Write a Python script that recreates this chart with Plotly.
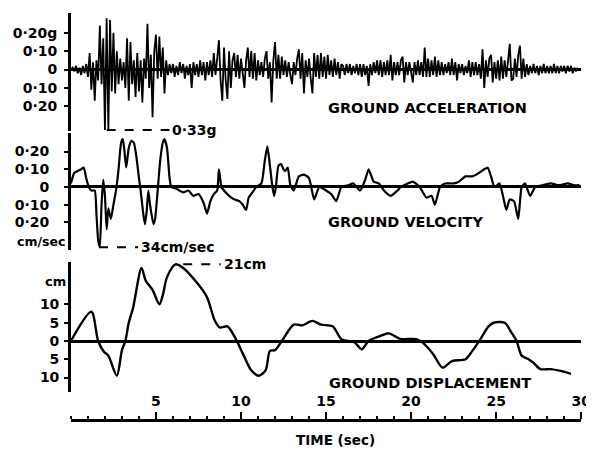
import plotly.graph_objects as go

# ---------------- data ----------------
ACC_DT = 0.1  # s, sampling step of the acceleration record as digitised
acc_g = [
    0.00, 0.01, -0.01, 0.02, -0.02, 0.01, -0.03, 0.02, -0.02, 0.03,
    -0.04, 0.09, -0.11, 0.04, -0.17, 0.05, -0.06, 0.24, -0.08, 0.17,
    -0.33, 0.28, -0.33, 0.27, -0.12, 0.20, -0.13, 0.10, -0.08, 0.06,
    -0.06, 0.04, -0.10, 0.17, -0.17, 0.15, -0.08, 0.05, -0.15, 0.09,
    -0.12, 0.05, -0.18, 0.06, -0.05, 0.25, -0.10, 0.08, -0.26, 0.10,
    0.19, -0.05, 0.18, -0.04, 0.12, -0.13, 0.05, -0.03, 0.03, -0.02,
    0.03, -0.04, 0.02, -0.03, 0.04, -0.02, 0.03, -0.05, 0.02, -0.03,
    0.03, -0.10, 0.04, -0.03, 0.03, -0.04, 0.05, -0.03, 0.04, -0.06,
    0.04, -0.03, 0.05, -0.04, 0.09, -0.03, 0.06, 0.16, -0.06, -0.17,
    0.12, -0.06, -0.16, 0.10, -0.10, 0.05, 0.09, -0.04, 0.08, -0.05,
    0.06, -0.04, -0.10, 0.05, 0.12, -0.04, 0.10, -0.05, 0.09, -0.06,
    0.05, -0.03, 0.04, -0.04, 0.06, 0.10, -0.05, 0.04, -0.18, 0.05,
    0.15, -0.05, 0.08, -0.05, 0.07, -0.03, 0.05, -0.04, 0.04, -0.03,
    -0.08, 0.04, -0.03, 0.06, 0.11, -0.05, 0.09, -0.13, 0.05, -0.04,
    0.06, -0.05, -0.13, 0.09, -0.04, 0.08, -0.05, 0.09, -0.04, 0.07,
    -0.05, 0.08, -0.03, 0.05, -0.04, 0.06, -0.03, 0.04, -0.05, 0.03,
    0.02, -0.03, 0.03, -0.02, 0.03, -0.03, 0.02, -0.02, 0.03, -0.03,
    0.03, -0.04, 0.03, -0.03, 0.02, -0.09, 0.03, -0.03, 0.04, -0.02,
    0.05, -0.03, 0.05, -0.04, 0.04, -0.03, 0.05, -0.03, 0.08, -0.06,
    0.04, -0.03, 0.04, -0.03, 0.05, 0.07, -0.07, 0.04, -0.03, 0.04,
    -0.03, -0.07, 0.04, -0.03, 0.05, -0.03, 0.04, -0.04, 0.12, -0.04,
    0.06, -0.04, 0.05, -0.03, 0.07, -0.04, 0.05, -0.03, 0.04, -0.03,
    0.03, -0.02, 0.04, -0.03, 0.06, -0.03, 0.04, -0.06, 0.03, -0.02,
    0.03, -0.03, 0.02, -0.02, 0.05, -0.04, 0.04, -0.03, 0.04, -0.03,
    0.03, -0.05, 0.11, -0.10, 0.05, -0.04, 0.06, 0.08, -0.07, 0.04,
    -0.05, 0.05, -0.06, 0.07, -0.05, 0.05, -0.04, 0.06, 0.14, -0.06,
    -0.05, 0.06, -0.04, 0.08, 0.13, -0.05, 0.06, -0.04, 0.03, -0.03,
    0.02, -0.02, 0.03, -0.02, 0.02, -0.03, 0.02, -0.02, 0.03, -0.02,
    0.02, -0.02, 0.02, -0.02, 0.03, -0.02, 0.02, -0.02, 0.02, -0.01,
    0.02, -0.02, 0.02, -0.01, 0.02, -0.02, 0.01, -0.01, 0.01,
]
acc_time = [round(i * ACC_DT, 1) for i in range(len(acc_g))]

vel_t = [0.0, 0.2, 0.4, 0.6, 0.75, 0.9, 1.05, 1.2, 1.4, 1.5, 1.6, 1.7, 1.8, 1.9,
         2.0, 2.1, 2.2, 2.35, 2.5, 2.65, 2.8, 2.95, 3.05, 3.15, 3.25, 3.4, 3.55,
         3.7, 3.85, 4.0, 4.1, 4.25, 4.35, 4.45, 4.55, 4.65, 4.85, 4.95, 5.1,
         5.25, 5.4, 5.5, 5.65, 5.8, 5.9, 6.2, 6.6, 6.9, 7.2, 7.5, 7.8, 8.0, 8.2,
         8.4, 8.6, 8.7, 8.85, 9.0, 9.3, 9.6, 9.9, 10.1, 10.3, 10.45, 10.6, 10.9,
         11.2, 11.4, 11.55, 11.7, 11.85, 11.95, 12.05, 12.2, 12.35, 12.5, 12.6,
         12.75, 12.9, 13.1, 13.4, 13.7, 14.0, 14.3, 14.6, 15.0, 15.3, 15.6,
         15.9, 16.3, 16.6, 17.0, 17.3, 17.5, 17.8, 18.1, 18.4, 18.8, 19.2,
         19.4, 19.8, 20.1, 20.5, 20.9, 21.2, 21.4, 21.7, 22.0, 22.5, 22.8,
         23.2, 23.6, 24.0, 24.3, 24.5, 24.7, 24.9, 25.2, 25.4, 25.6, 25.8,
         26.05, 26.3, 26.5, 26.7, 27.0, 27.3, 27.7, 28.2, 28.7, 29.2, 29.6, 29.9]
vel_ms = [0.02, 0.08, 0.09, 0.10, 0.11, 0.05, 0.0, -0.02, -0.02, -0.15, -0.30,
          -0.34, -0.10, 0.04, -0.05, -0.24, -0.12, -0.18, -0.10, -0.02, 0.10,
          0.25, 0.27, 0.20, 0.11, 0.22, 0.26, 0.25, 0.17, 0.05, -0.02, -0.15,
          -0.21, -0.14, -0.02, -0.10, -0.21, -0.18, -0.02, 0.15, 0.25, 0.27,
          0.22, 0.05, 0.0, -0.01, -0.03, -0.02, -0.05, -0.04, -0.09, -0.15,
          -0.08, -0.04, -0.02, 0.10, 0.0, -0.02, -0.05, -0.07, -0.08, -0.10,
          -0.13, -0.06, -0.04, 0.0, 0.02, 0.15, 0.23, 0.12, 0.0, -0.05, 0.0,
          0.12, 0.13, 0.10, 0.09, 0.11, 0.01, -0.02, 0.06, 0.07, 0.05, -0.07,
          0.0, -0.02, -0.04, -0.08, 0.0, 0.01, 0.02, -0.02, 0.04, 0.10, 0.03,
          0.02, -0.02, -0.05, -0.02, 0.0, 0.02, 0.03, 0.0, -0.06, -0.05, -0.10,
          0.0, 0.02, 0.02, 0.03, 0.06, 0.06, 0.08, 0.10, 0.11, 0.06, 0.0, 0.02,
          -0.05, -0.13, -0.07, -0.08, -0.18, 0.0, 0.02, -0.05, 0.0, 0.01, 0.02,
          0.01, 0.02, 0.01, 0.01]

disp_t = [0.0, 1.2, 1.6, 1.95, 2.2, 2.7, 3.0, 3.2, 3.4, 3.65, 4.15, 4.4, 4.8,
          5.2, 5.4, 5.65, 6.15, 6.6, 7.4, 8.0, 8.45, 8.75, 9.2, 9.7, 10.2, 10.6,
          11.05, 11.45, 11.7, 12.0, 12.4, 13.1, 13.6, 14.2, 14.7, 15.4, 15.9,
          16.65, 17.1, 17.5, 18.2, 18.7, 19.35, 20.3, 20.7, 21.3, 21.85, 22.4,
          23.2, 23.6, 24.05, 24.55, 24.85, 25.5, 25.9, 26.2, 26.5, 26.9, 27.2,
          27.6, 28.2, 28.8, 29.4]
disp_cm = [0.0, 8.0, 0.0, -3.0, -4.0, -9.5, -2.5, 0.0, 5.0, 9.0, 20.0, 16.5,
           14.0, 10.0, 12.5, 17.5, 21.0, 20.0, 16.0, 12.0, 5.7, 3.7, 4.0, 0.5,
           -4.4, -8.0, -9.5, -8.0, -2.7, -2.5, 0.0, 4.5, 4.3, 5.5, 4.5, 4.0,
           0.5, -0.3, -2.3, 0.0, 1.4, 2.1, 0.6, 0.5, -0.5, -3.6, -7.3, -5.5,
           -5.0, -2.7, 0.3, 4.0, 5.0, 5.0, 2.3, 0.0, -4.0, -5.0, -6.0, -7.7,
           -7.7, -8.2, -9.0]

time_ticks = [5, 10, 15, 20, 25, 30]
acc_ticks = [0.2, 0.1, 0, -0.1, -0.2]
acc_ticktext = ["0·20g", "0·10", "0", "0·10", "0·20"]
vel_ticks = [0.2, 0.1, 0, -0.1, -0.2]
vel_ticktext = ["0·20", "0·10", "0", "0·10", "0·20"]
disp_ticks = [10, 5, 0, -5, -10]
disp_ticktext = ["10", "5", "0", "5", "10"]

peak_acc = -0.33
peak_vel = -0.34
peak_disp = 21

# ---------------- figure ----------------
W, H = 594, 450
OFF = 8  # page margin of the html body: the figure is drawn 8px right/down
FONT = "DejaVu Sans"
INK = "black"


def px_(x):
    return (x - OFF) / W


def py(y):
    return 1 - (y - OFF) / H


fig = go.Figure()
fig.add_trace(go.Scatter(x=acc_time, y=acc_g, mode="lines", xaxis="x", yaxis="y",
                         line=dict(color=INK, width=1.8), hoverinfo="skip"))
fig.add_trace(go.Scatter(x=vel_t, y=vel_ms, mode="lines", xaxis="x", yaxis="y2",
                         line=dict(color=INK, width=2.2, shape="spline", smoothing=0.5),
                         hoverinfo="skip"))
fig.add_trace(go.Scatter(x=disp_t, y=disp_cm, mode="lines", xaxis="x", yaxis="y3",
                         line=dict(color=INK, width=2.4, shape="spline", smoothing=0.8),
                         hoverinfo="skip"))


def bold(lst):
    return ["<b>%s</b>" % s for s in lst]


def yax(standoff):
    return dict(
        anchor="x", showgrid=False, showline=True, linecolor=INK, linewidth=2.5,
        ticks="outside", ticklen=4, tickwidth=2, tickcolor=INK,
        ticklabelstandoff=standoff,
        zeroline=True, zerolinecolor=INK, zerolinewidth=2.6,
        tickfont=dict(family=FONT, size=14, color=INK), fixedrange=True,
    )


fig.update_layout(
    width=W, height=H, margin=dict(l=0, r=0, t=0, b=0),
    paper_bgcolor="white", plot_bgcolor="white", showlegend=False,
    xaxis=dict(
        domain=[px_(72), px_(591)], range=[0, 30], anchor="free", position=py(420),
        side="top", showgrid=False, zeroline=False, showline=True,
        linecolor=INK, linewidth=3, ticks="outside", ticklen=7, tickwidth=2,
        tickcolor=INK, tickvals=time_ticks, ticktext=bold([str(v) for v in time_ticks]),
        tickfont=dict(family=FONT, size=14, color=INK), ticklabeloverflow="allow",
        minor=dict(dtick=1, ticks="outside", ticklen=3, tickwidth=2, tickcolor=INK),
    ),
    yaxis=dict(domain=[py(131), py(13)], range=[-0.3351, 0.3081],
               tickvals=acc_ticks, ticktext=bold(acc_ticktext), **yax(4)),
    yaxis2=dict(domain=[py(250), py(133)], range=[-0.356, 0.305],
                tickvals=vel_ticks, ticktext=bold(vel_ticktext), **yax(12)),
    yaxis3=dict(domain=[py(392), py(262)], range=[-13.97, 21.64],
                tickvals=disp_ticks, ticktext=bold(disp_ticktext), **yax(2)),
)

# peak markers (dashed leaders) and their labels
dash = dict(color=INK, width=2, dash="dash")
fig.add_shape(type="line", xref="x", yref="y", x0=2.1, x1=5.8, y0=peak_acc, y1=peak_acc, line=dash)
fig.add_shape(type="line", xref="x", yref="y2", x0=1.65, x1=3.95, y0=peak_vel, y1=peak_vel, line=dash)
fig.add_shape(type="line", xref="x", yref="y3", x0=6.6, x1=8.8, y0=peak_disp, y1=peak_disp, line=dash)

lab = dict(family=FONT, size=14, color=INK)
fig.add_annotation(x=5.85, y=peak_acc, xref="x", yref="y", text="<b>0·33g</b>",
                   showarrow=False, xanchor="left", yanchor="middle", font=lab)
fig.add_annotation(x=4.0, y=peak_vel, xref="x", yref="y2", text="<b>34cm/sec</b>",
                   showarrow=False, xanchor="left", yanchor="middle", font=lab)
fig.add_annotation(x=8.9, y=peak_disp, xref="x", yref="y3", text="<b>21cm</b>",
                   showarrow=False, xanchor="left", yanchor="middle", font=lab)

big = dict(family=FONT, size=14.5, color=INK)
fig.add_annotation(x=px_(435), y=py(108), xref="paper", yref="paper", xanchor="center",
                   yanchor="middle", text="<b>GROUND ACCELERATION</b>", showarrow=False, font=big)
fig.add_annotation(x=px_(412), y=py(222), xref="paper", yref="paper", xanchor="center",
                   yanchor="middle", text="<b>GROUND VELOCITY</b>", showarrow=False, font=big)
fig.add_annotation(x=px_(437), y=py(383), xref="paper", yref="paper", xanchor="center",
                   yanchor="middle", text="<b>GROUND DISPLACEMENT</b>", showarrow=False, font=big)
fig.add_annotation(x=px_(341), y=py(440), xref="paper", yref="paper", xanchor="center",
                   yanchor="middle", text="<b>TIME (sec)</b>", showarrow=False,
                   font=dict(family=FONT, size=13.5, color=INK))
fig.add_annotation(x=px_(68), y=py(241), xref="paper", yref="paper",
                   text="<b>cm/sec</b>", showarrow=False, xanchor="right", yanchor="middle",
                   font=dict(family=FONT, size=12.5, color=INK))
fig.add_annotation(x=px_(69), y=py(281), xref="paper", yref="paper",
                   text="<b>cm</b>", showarrow=False, xanchor="right", yanchor="middle",
                   font=dict(family=FONT, size=13, color=INK))

fig.write_html("out.html")
